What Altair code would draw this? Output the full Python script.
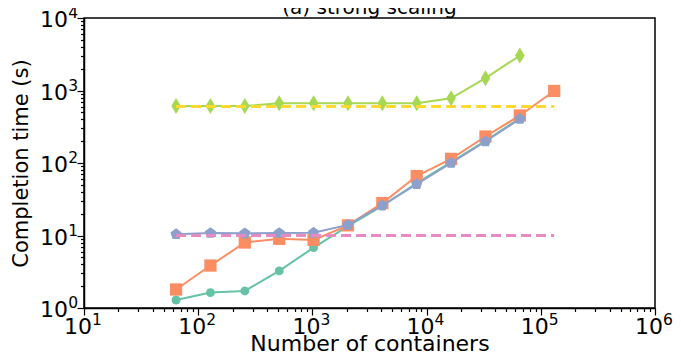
import altair as alt
import pandas as pd

x_vals = [64, 128, 256, 512, 1024, 2048, 4096, 8192, 16384, 32768, 65536]
x_vals_long = x_vals + [131072]

circle_y = [1.29, 1.63, 1.72, 3.25, 6.8, 13.5, 25.5, 53, 103, 202, 415]
square_y = [1.8, 3.85, 8.0, 9.0, 8.7, 13.8, 28, 66, 114, 232, 452, 985]
pentagon_y = [10.4, 10.8, 10.7, 10.8, 10.9, 14, 26, 51, 100, 198, 405]
diamond_y = [610, 610, 610, 665, 665, 665, 665, 665, 780, 1480, 3030]

ref_x = [64, 131072]
ref_high = [600, 600]
ref_low = [10, 10]

# major tick labels, drawn as "10" plus a raised exponent
x_major = [10, 100, 1000, 10000, 100000, 1000000]
x_exp = ["1", "2", "3", "4", "5", "6"]
y_major = [1, 10, 100, 1000, 10000]
y_exp = ["0", "1", "2", "3", "4"]

TITLE = "(a) strong scaling"

x_ticks = [k * 10 ** d for d in range(1, 6) for k in range(1, 10)] + [10 ** 6]
y_ticks = [k * 10 ** d for d in range(0, 4) for k in range(1, 10)] + [10 ** 4]

FONT = "DejaVu Sans"
W, H = 571, 290
is_major = "abs(log(datum.value)/LN10 - round(log(datum.value)/LN10)) < 0.01"

x_scale = alt.Scale(type="log", domain=[10, 1e6], nice=False)
y_scale = alt.Scale(type="log", domain=[1, 1e4], nice=False)

x_axis = alt.Axis(
    values=x_ticks, labels=False, grid=False,
    tickSize={"condition": {"test": is_major, "value": 7}, "value": 3.5},
    tickColor="black", tickWidth=1.2, domainColor="black", domainWidth=1.5,
    title="Number of containers", titleFont=FONT,
    titleFontSize=22, titleFontWeight="normal", titleColor="black",
    titleBaseline="alphabetic", titleY=42,
)
y_axis = alt.Axis(
    values=y_ticks, labels=False, grid=False,
    tickSize={"condition": {"test": is_major, "value": 7}, "value": 3.5},
    tickColor="black", tickWidth=1.2, domainColor="black", domainWidth=1.5,
    title="Completion time (s)", titleFont=FONT,
    titleFontSize=21, titleFontWeight="normal", titleColor="black",
    titleBaseline="middle", titleX=-63,
)

def series_df(xs, ys):
    return pd.DataFrame({"x": xs, "y": ys})

PENTAGON = "M0,-1L0.951,-0.309L0.588,0.809L-0.588,0.809L-0.951,-0.309Z"
THIN_DIAMOND = "M0,-1L0.6,0L0,1L-0.6,0Z"

def enc(base):
    return base.encode(
        x=alt.X("x:Q", scale=x_scale, axis=x_axis),
        y=alt.Y("y:Q", scale=y_scale, axis=y_axis),
    )

def series(xs, ys, color, shape, size):
    base = enc(alt.Chart(series_df(xs, ys)))
    line = base.mark_line(color=color, strokeWidth=2)
    pts = base.mark_point(shape=shape, size=size, filled=True, color=color, opacity=1)
    return line + pts

def dashed(xs, ys, color):
    return enc(alt.Chart(series_df(xs, ys)).mark_line(
        color=color, strokeWidth=3, strokeDash=[10, 5]))

xl = pd.DataFrame({"x": x_major, "e": x_exp})
yl = pd.DataFrame({"y": y_major, "e": y_exp})

x_base_lbl = alt.Chart(xl).mark_text(
    text="10", font=FONT, fontSize=22, align="right", baseline="alphabetic", dx=8, color="black"
).encode(x=alt.X("x:Q", scale=x_scale, axis=x_axis), y=alt.value(H + 26))
x_exp_lbl = alt.Chart(xl).mark_text(
    font=FONT, fontSize=15.5, align="left", baseline="alphabetic", dx=8, color="black"
).encode(x=alt.X("x:Q", scale=x_scale, axis=x_axis), y=alt.value(H + 17), text="e:N")

y_base_lbl = alt.Chart(yl).mark_text(
    text="10", font=FONT, fontSize=22, align="right", baseline="alphabetic", dy=9, color="black"
).encode(y=alt.Y("y:Q", scale=y_scale, axis=y_axis), x=alt.value(-16))
y_exp_lbl = alt.Chart(yl).mark_text(
    font=FONT, fontSize=15.5, align="right", baseline="alphabetic", dy=0, color="black"
).encode(y=alt.Y("y:Q", scale=y_scale, axis=y_axis), x=alt.value(-6), text="e:N")

title_txt = alt.Chart(pd.DataFrame({"t": [TITLE]})).mark_text(
    font=FONT, fontSize=20, align="center", baseline="alphabetic", color="black"
).encode(x=alt.value(W / 2), y=alt.value(-4), text="t:N")

chart = alt.layer(
    series(x_vals, circle_y, "#66c2a5", "circle", 80),
    series(x_vals_long, square_y, "#fc8d62", "square", 150),
    series(x_vals, pentagon_y, "#8da0cb", PENTAGON, 140),
    series(x_vals, diamond_y, "#a6d854", THIN_DIAMOND, 256),
    dashed(ref_x, ref_high, "#ffd92f"),
    dashed(ref_x, ref_low, "#e78ac3"),
    x_base_lbl, x_exp_lbl, y_base_lbl, y_exp_lbl, title_txt,
).properties(
    width=W, height=H,
    autosize=alt.AutoSizeParams(type="none"),
    padding={"left": 76, "top": 10, "right": 18, "bottom": 43},
).configure_view(stroke="black", strokeWidth=1.5)

chart.save("out.html", embed_options={"renderer": "svg", "actions": False})
